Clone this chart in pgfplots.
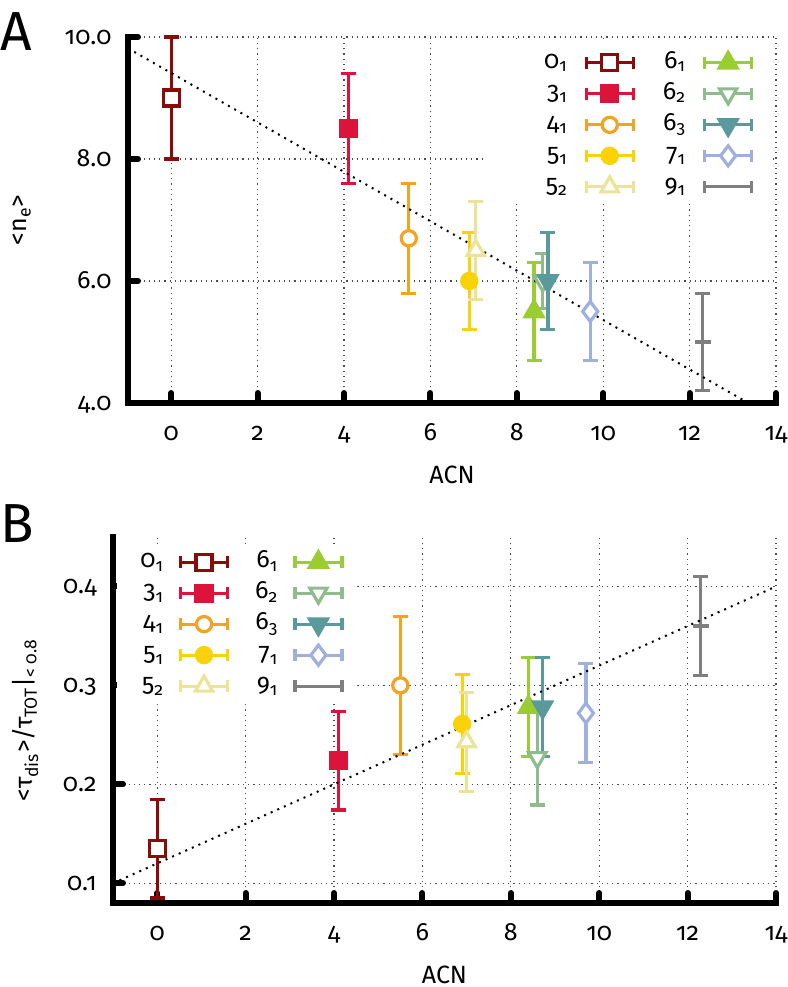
\documentclass[border=0pt]{standalone}
\usepackage{fontspec}
\setmainfont{Fira Sans}[Numbers=OldStyle]
\usepackage{pgfplots}
\pgfplotsset{compat=1.18}

\definecolor{k01}{HTML}{8B0A0A}
\definecolor{k31}{HTML}{DC143C}
\definecolor{k41}{HTML}{F5A31E}
\definecolor{k51}{HTML}{FAD20A}
\definecolor{k52}{HTML}{EDE397}
\definecolor{k61}{HTML}{9ACD32}
\definecolor{k62}{HTML}{8FBC8F}
\definecolor{k63}{HTML}{5A9A9C}
\definecolor{k71}{HTML}{9FB0DF}
\definecolor{k91}{HTML}{7F7F7F}

\pgfplotsset{
  knotpanel/.style={
    scale only axis, clip=false,
    xmin=-1, xmax=14, xtick={0,2,...,14},
    axis x line*=bottom, axis y line*=left,
    axis line style={line width=3pt, line cap=rect},
    tick align=inside, major tick length=5pt,
    major tick style={line width=3pt, line cap=round, black},
    grid=major,
    major grid style={line width=0.6pt, black!70, dash pattern=on 0.6pt off 2pt},
    /pgf/number format/assume math mode=true,
    font=\fontsize{12.5}{15}\selectfont,
    xticklabel style={anchor=base, yshift=-18.5pt, inner sep=0pt},
    yticklabel style={anchor=base east, xshift=-8pt, yshift=-3.75pt, inner sep=0pt,
      /pgf/number format/.cd, fixed, fixed zerofill, precision=1},
    xlabel={ACN},
    xlabel style={at={(axis description cs:0.5,0)}, anchor=base, yshift=-40pt},
    legend columns=2, legend plot pos=right, legend cell align=right,
    legend image code/.code={
      \draw[#1, mark=none] (0pt,0pt) -- (23.5pt,0pt) (0pt,-3pt) -- (0pt,3pt) (23.5pt,-3pt) -- (23.5pt,3pt);
      \draw[#1] plot coordinates {(11.75pt,0pt)};
    },
    every axis plot/.append style={line width=1.6pt},
    error bars/y dir=both, error bars/y explicit,
    error bars/error bar style={line width=1.6pt},
    error bars/error mark options={line width=1.6pt, mark size=3.75pt, rotate=90},
  },
  s01/.style={k01, mark=square*, mark size=4pt, mark options={solid, fill=white}},
  s31/.style={k31, mark=square*, mark size=4pt, mark options={solid}},
  s41/.style={k41, mark=*, mark size=3.8pt, mark options={solid, fill=white}},
  s51/.style={k51, mark=*, mark size=3.8pt, mark options={solid}},
  s52/.style={k52, mark=triangle*, mark size=5pt, mark options={solid, fill=white}},
  s61/.style={k61, mark=triangle*, mark size=5.2pt, mark options={solid}},
  s62/.style={k62, mark=triangle*, mark size=5pt, mark options={solid, rotate=180, fill=white}},
  s63/.style={k63, mark=triangle*, mark size=5.2pt, mark options={solid, rotate=180}},
  s71/.style={k71, mark=diamond*, mark size=5pt, mark options={solid, fill=white}},
  s91/.style={k91, mark=-, mark size=4pt, mark options={solid}},
  fit/.style={black, line width=1pt, dash pattern=on 1pt off 2.6pt, mark=none, forget plot},
}

\begin{document}
\begin{tikzpicture}
\useasboundingbox (0,0) rectangle (394pt,-493.5pt);

\node[anchor=base west, inner sep=0pt, font=\fontsize{27.5}{30}\selectfont] at (0pt,-25pt) {A};
\node[anchor=base west, inner sep=0pt, font=\fontsize{27.5}{30}\selectfont] at (0pt,-271pt) {B};

% panel A
\begin{axis}[knotpanel,
  at={(64pt,-201.5pt)}, anchor=south west,
  width=324pt, height=183pt,
  ymin=4, ymax=10, ytick={4,6,8,10},
  ylabel={<n\textsubscript{e}>},
  ylabel style={at={(axis description cs:-0.156,0.5)}, anchor=base},
  legend style={at={(rel axis cs:0.802,0.76)}, anchor=center, fill=none, draw=none,
    inner xsep=0pt, inner ysep=0pt, row sep=1pt,
    nodes={inner sep=1pt, text height=9pt, text depth=3.5pt},
    /tikz/every odd column/.append style={column sep=7.5pt},
    /tikz/every even column/.append style={column sep=13pt}},
]
% white patch behind the legend
\fill[white] (axis cs:7.26,7.26) rectangle (axis cs:13.83,9.95);
\addplot[s01] coordinates {(0,9.0) +- (0,1.0)};
\addlegendentry{0\textsubscript{1}}
\addplot[s61] coordinates {(8.4,5.5) +- (0,0.8)};
\addlegendentry{6\textsubscript{1}}
\addplot[s31] coordinates {(4.1,8.5) +- (0,0.9)};
\addlegendentry{3\textsubscript{1}}
\addplot[s62] coordinates {(8.6,6.0) +- (0,0.45)};
\addlegendentry{6\textsubscript{2}}
\addplot[s41] coordinates {(5.5,6.7) +- (0,0.9)};
\addlegendentry{4\textsubscript{1}}
\addplot[s63] coordinates {(8.72,6.0) +- (0,0.8)};
\addlegendentry{6\textsubscript{3}}
\addplot[s51] coordinates {(6.9,6.0) +- (0,0.8)};
\addlegendentry{5\textsubscript{1}}
\addplot[s71] coordinates {(9.7,5.5) +- (0,0.8)};
\addlegendentry{7\textsubscript{1}}
\addplot[s52] coordinates {(7.05,6.5) +- (0,0.8)};
\addlegendentry{5\textsubscript{2}}
\addplot[s91] coordinates {(12.3,5.0) +- (0,0.8)};
\addlegendentry{9\textsubscript{1}}
\addplot[fit] coordinates {(-1,9.815) (13.36,4.0)};
\end{axis}

% panel B
\begin{axis}[knotpanel,
  at={(56.5pt,-451.5pt)}, anchor=south west,
  width=331.5pt, height=183pt,
  ymin=0.08, ymax=0.45, ytick={0.1,0.2,0.3,0.4},
  ylabel={<τ\textsubscript{dis}>/τ\textsubscript{TOT}|\textsubscript{< 0.8}},
  ylabel style={at={(axis description cs:-0.121,0.5)}, anchor=base},
  legend style={at={(rel axis cs:0.193,0.762)}, anchor=center, fill=none, draw=none,
    inner xsep=0pt, inner ysep=0pt, row sep=1pt,
    nodes={inner sep=1pt, text height=9pt, text depth=3.5pt},
    /tikz/every odd column/.append style={column sep=6.5pt},
    /tikz/every even column/.append style={column sep=12pt}},
]
% white patch behind the legend
\fill[white] (axis cs:-0.9,0.2825) rectangle (axis cs:4.43,0.4395);
\addplot[s01] coordinates {(0,0.135) +- (0,0.05)};
\addlegendentry{0\textsubscript{1}}
\addplot[s61] coordinates {(8.4,0.278) +- (0,0.05)};
\addlegendentry{6\textsubscript{1}}
\addplot[s31] coordinates {(4.1,0.224) +- (0,0.05)};
\addlegendentry{3\textsubscript{1}}
\addplot[s62] coordinates {(8.6,0.227) +- (0,0.048)};
\addlegendentry{6\textsubscript{2}}
\addplot[s41] coordinates {(5.5,0.30) +- (0,0.07)};
\addlegendentry{4\textsubscript{1}}
\addplot[s63] coordinates {(8.72,0.278) +- (0,0.05)};
\addlegendentry{6\textsubscript{3}}
\addplot[s51] coordinates {(6.9,0.261) +- (0,0.05)};
\addlegendentry{5\textsubscript{1}}
\addplot[s71] coordinates {(9.7,0.272) +- (0,0.05)};
\addlegendentry{7\textsubscript{1}}
\addplot[s52] coordinates {(7.0,0.243) +- (0,0.05)};
\addlegendentry{5\textsubscript{2}}
\addplot[s91] coordinates {(12.3,0.36) +- (0,0.05)};
\addlegendentry{9\textsubscript{1}}
\addplot[fit] coordinates {(-1,0.10) (14,0.40)};
\end{axis}
\end{tikzpicture}
\end{document}
